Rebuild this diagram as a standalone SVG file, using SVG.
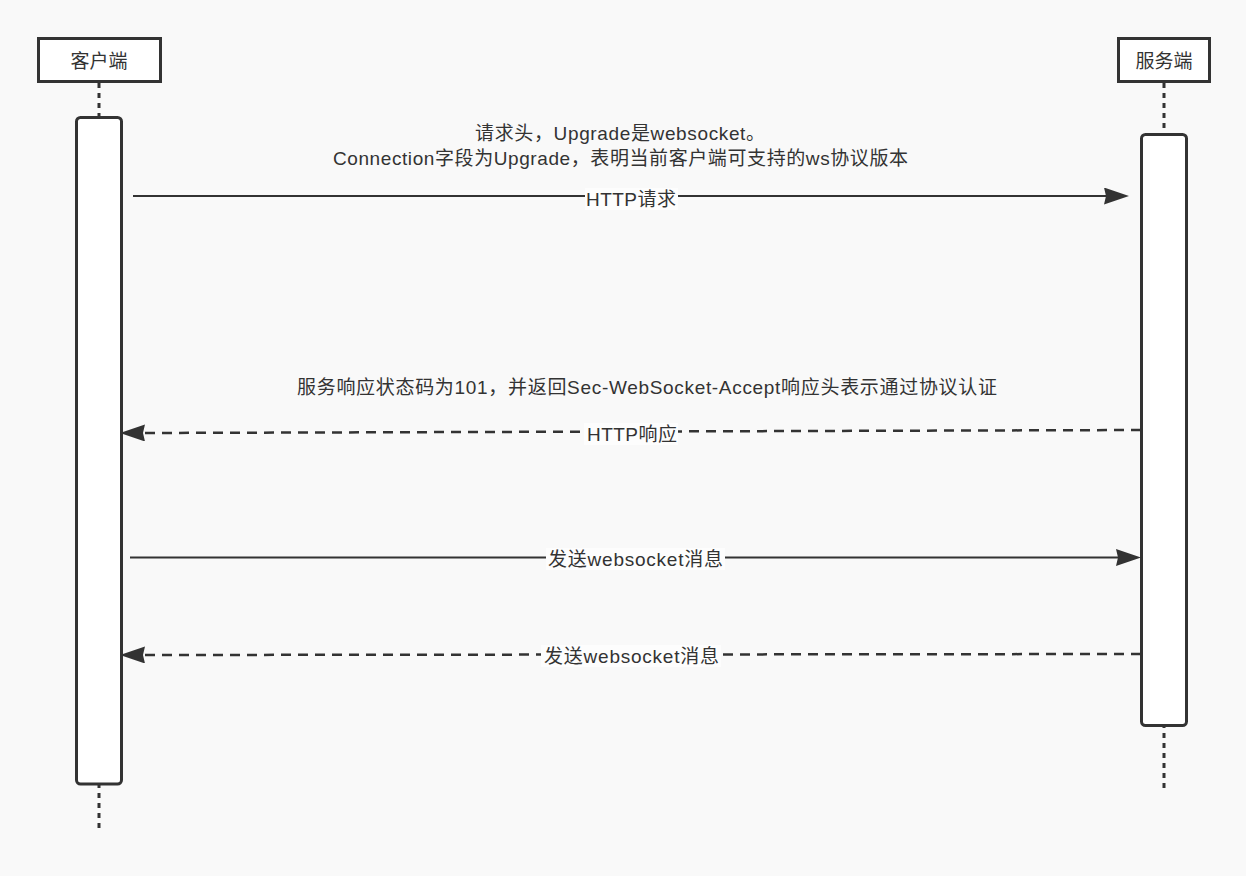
<svg xmlns="http://www.w3.org/2000/svg" width="1246" height="876" viewBox="0 0 1246 876">
<defs>
<marker id="arr" markerUnits="userSpaceOnUse" markerWidth="26" markerHeight="17" refX="3" refY="8.5" orient="auto" viewBox="0 0 26 17">
<path d="M0,0 L25,8.5 L0,17 L2,8.5 Z" fill="#333"/>
</marker>
<style>
.t{font-family:"Liberation Sans","Noto Sans CJK SC",sans-serif;font-size:19px;fill:#333;text-anchor:middle}
.box{fill:#fff;stroke:#333;stroke-width:3}
.life{stroke:#333;stroke-width:3;stroke-dasharray:5 5;fill:none}
.act{fill:#fff;stroke:#333;stroke-width:3}
.solid{stroke:#333;stroke-width:2.2;fill:none}
.dash{stroke:#333;stroke-width:2.5;fill:none;stroke-dasharray:10 7}
.lbg{fill:#fdfdfd}
</style>
</defs>
<rect width="1246" height="876" fill="#f9f9f9"/>
<g id="client">
<line class="life" x1="99" y1="83" x2="99" y2="832"/>
<rect class="box" x="38.5" y="38.5" width="122" height="43"/>
<text class="t" x="99" y="68" textLength="57">客户端</text>
<rect class="act" x="76.5" y="117.5" width="45" height="666.5" rx="4"/>
</g>
<g id="server">
<line class="life" x1="1164" y1="83" x2="1164" y2="791"/>
<rect class="box" x="1118.5" y="38.5" width="91" height="43"/>
<text class="t" x="1164" y="68" textLength="57">服务端</text>
<rect class="act" x="1141.5" y="134.5" width="45" height="591" rx="4"/>
</g>
<g id="connectors">
<path class="solid" d="M133,196 L1107,196" marker-end="url(#arr)"/>
<path class="dash" d="M1141,430 L142,433" marker-end="url(#arr)"/>
<path class="solid" d="M130,557.5 L1119,557.5" marker-end="url(#arr)"/>
<path class="dash" d="M1141,654 L142,655" marker-end="url(#arr)"/>
</g>
<g id="labels">
<text class="t" x="620" y="140" textLength="290">请求头，Upgrade是websocket。</text>
<text class="t" x="620.5" y="165" textLength="575">Connection字段为Upgrade，表明当前客户端可支持的ws协议版本</text>
<rect class="lbg" x="585" y="188" width="93" height="22"/>
<text class="t" x="631" y="206" textLength="90">HTTP请求</text>
<text class="t" x="647" y="394" textLength="700">服务响应状态码为101，并返回Sec-WebSocket-Accept响应头表示通过协议认证</text>
<rect class="lbg" x="584" y="423" width="94" height="22"/>
<text class="t" x="632" y="441" textLength="90">HTTP响应</text>
<rect class="lbg" x="546" y="548" width="179" height="22"/>
<text class="t" x="635.5" y="566" textLength="175">发送websocket消息</text>
<rect class="lbg" x="541" y="645" width="180" height="22"/>
<text class="t" x="631.5" y="663" textLength="175">发送websocket消息</text>
</g>
</svg>
